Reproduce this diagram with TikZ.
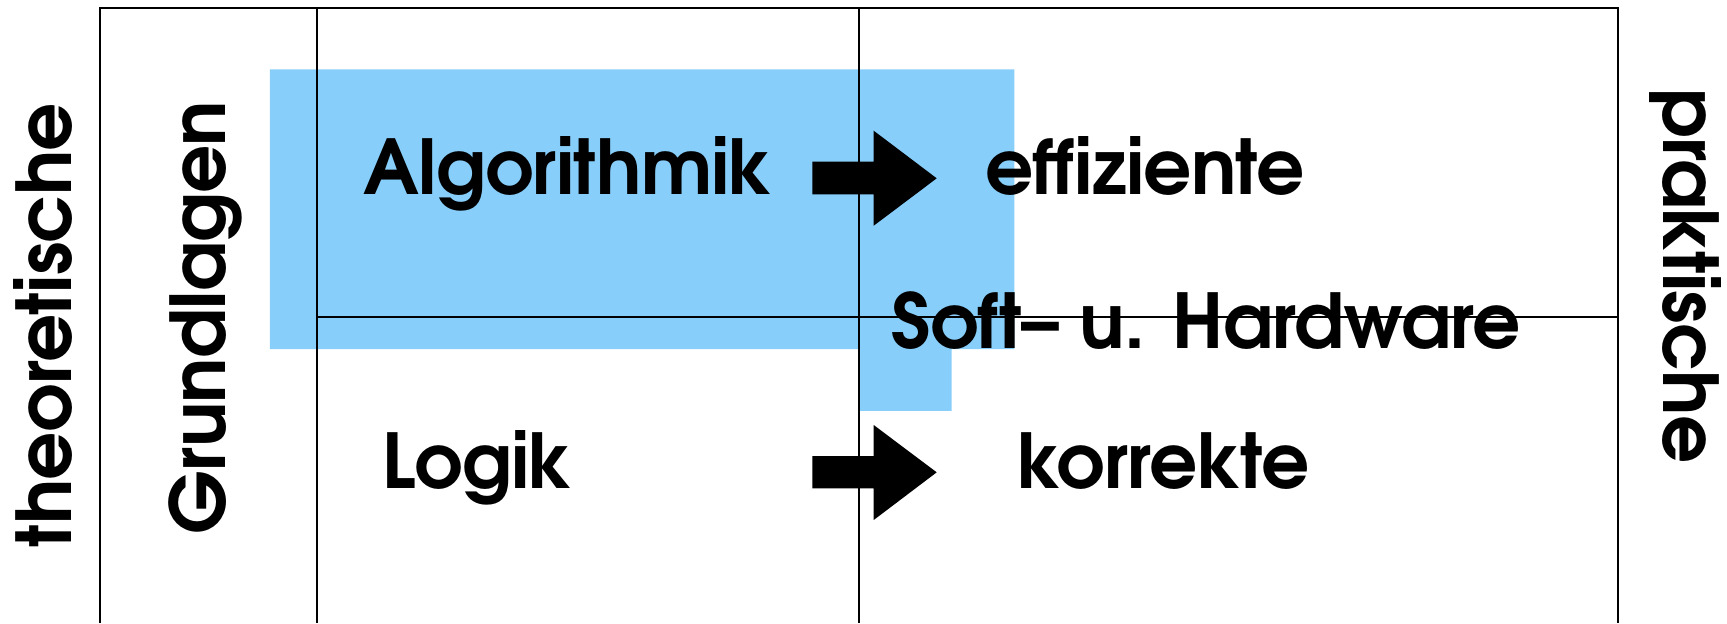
\documentclass[tikz,border=0pt]{standalone}
\usepackage{fontspec}
\setmainfont{texgyreadventor-bold.otf}[LetterSpace=-1.0]
\begin{document}
\begin{tikzpicture}[x=0.01cm,y=-0.01cm,
  grid/.style={line width=0.55pt,draw=black},
  lbl/.style={inner sep=0pt,outer sep=0pt,font=\fontsize{21.5}{25}\selectfont},
  blockarrow/.style={fill=black}]
\definecolor{skyb}{RGB}{135,206,250}
\useasboundingbox (0,0) rectangle (1727,623);
% blue area
\fill[skyb] (269.8,69.4) -- (1014.4,69.4) -- (1014.4,349) -- (951.6,349) -- (951.6,410.8) -- (859,410.8) -- (859,349) -- (269.8,349) -- cycle;
% grid
\coordinate (TL) at (100.2,7.7);
\coordinate (TR) at (1618,7.7);
\coordinate (BL) at (100.2,623);
\coordinate (BR) at (1618,623);
\coordinate (A1) at (317.2,7.7);
\coordinate (A2) at (317.2,623);
\coordinate (B1) at (859,7.7);
\coordinate (B2) at (859,623);
\coordinate (H1) at (317.2,317.2);
\coordinate (H2) at (1618,317.2);
\draw[grid] (BL) -- (TL) -- (TR) -- (BR);
\draw[grid] (A1) -- (A2);
\draw[grid] (B1) -- (B2);
\draw[grid] (H1) -- (H2);
% arrows
\fill[blockarrow] (812.3,161.7) -- (873.7,161.7) -- (873.7,130.7) -- (936.7,178.3) -- (873.7,225.7) -- (873.7,194.3) -- (812.3,194.3) -- cycle;
\fill[blockarrow] (812.3,456) -- (873.7,456) -- (873.7,425) -- (936.7,472.3) -- (873.7,520) -- (873.7,488.3) -- (812.3,488.3) -- cycle;
% texts
\node[lbl,anchor=base west] (alg) at (363.5,194.3) {Algorithmik};
\node[lbl,anchor=base west] (eff) at (985,194.3) {effiziente};
\node[lbl,anchor=base west] (soft) at (891.7,348.3) {Soft– u. Hardware};
\node[lbl,anchor=base west] (log) at (382,488.3) {Logik};
\node[lbl,anchor=base west] (kor) at (1017,488.3) {korrekte};
\node[lbl,anchor=base west,rotate=90] (theo) at (71.6,547.4) {theoretische};
\node[lbl,anchor=base west,rotate=90] (grund) at (225.7,534) {Grundlagen};
\node[lbl,anchor=base west,rotate=-90] (prak) at (1663,88) {praktische};
\end{tikzpicture}
\end{document}
